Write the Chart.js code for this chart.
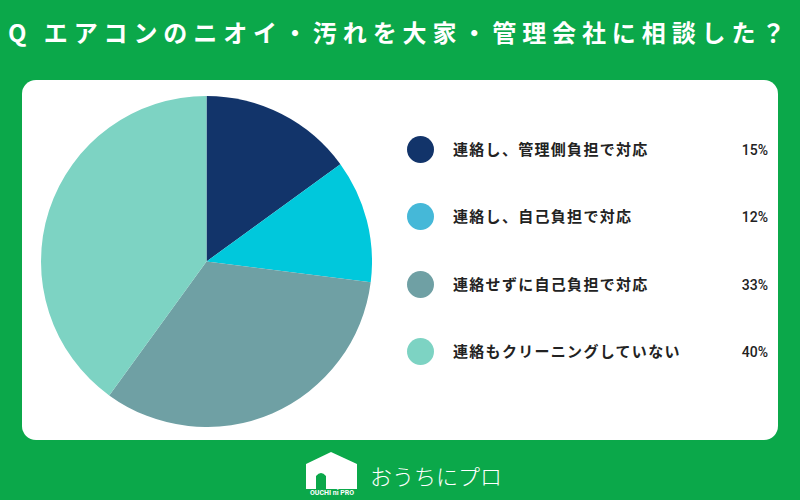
<!DOCTYPE html>
<html>
<head>
<meta charset="utf-8">
<script src="https://cdn.jsdelivr.net/npm/chart.js@4"></script>
<style>
  body { margin: 0; width: 800px; height: 500px; background: #0BA84A; font-family: "Noto Sans CJK JP", sans-serif; overflow: hidden; position: relative; }
  #title { position: absolute; left: 8px; top: 14px; color: #fff; font-size: 24px; font-weight: 700; letter-spacing: 5.9px; white-space: nowrap; }
  #card { position: absolute; left: 22px; top: 80px; width: 756px; height: 360px; background: #fff; border-radius: 14px; }
  #pieBox { position: absolute; left: 41px; top: 96px; width: 331px; height: 331px; }
  .item { position: absolute; left: 407px; width: 361px; height: 28px; }
  .dot { position: absolute; left: 0; top: 0; width: 27px; height: 27px; border-radius: 50%; }
  .lab { position: absolute; left: 46px; top: 2px; font-size: 15px; font-weight: 700; letter-spacing: 1.3px; color: #222; line-height: 22px; white-space: nowrap; }
  .pct { position: absolute; right: 0; top: 3px; font-size: 14px; font-weight: 500; color: #222; line-height: 22px; font-family: "Roboto", sans-serif; }
  #logo { position: absolute; left: 304px; top: 450px; }
  #brand { position: absolute; left: 370px; top: 459px; color: #fff; font-size: 22px; font-weight: 300; letter-spacing: 0px; white-space: nowrap; }
</style>
</head>
<body>
<div id="title">Q エアコンのニオイ・汚れを大家・管理会社に相談した？</div>
<div id="card"></div>
<div id="pieBox"><canvas id="pie"></canvas></div>
<div id="legend"></div>
<svg id="logo" width="56" height="46" viewBox="0 0 56 46">
  <path d="M2 14 L27 2 L53 14 L53 39 L22 39 L22 26 Q17 20 12 26 L12 39 L2 39 Z" fill="#fff"/>
  <text x="28" y="45" fill="#fff" font-size="7" font-family="Roboto" text-anchor="middle" font-weight="700">OUCHI ni PRO</text>
</svg>
<div id="brand">おうちにプロ</div>
<script>
const categories = ["連絡し、管理側負担で対応", "連絡し、自己負担で対応", "連絡せずに自己負担で対応", "連絡もクリーニングしていない"];
const shares = [15, 12, 33, 40];
const sliceColors = ["#12346A", "#00C8DC", "#6FA0A4", "#7DD3C3"];
const legendColors = ["#12346A", "#45B8D8", "#6FA0A4", "#7DD3C3"];
const legendTops = [136, 203, 271, 338];

const legend = document.getElementById("legend");
categories.forEach((c, i) => {
    const row = document.createElement("div");
    row.className = "item";
    row.style.top = legendTops[i] + "px";
    row.innerHTML = '<div class="dot" style="background:' + legendColors[i] + '"></div>' +
        '<div class="lab">' + c + '</div><div class="pct">' + shares[i] + '%</div>';
    legend.appendChild(row);
});

new Chart(document.getElementById("pie"), {
    type: "pie",
    data: {
        labels: categories,
        datasets: [{
            data: shares,
            backgroundColor: sliceColors,
            borderWidth: 0
        }]
    },
    options: {
        responsive: true,
        maintainAspectRatio: false,
        animation: false,
        layout: { padding: 0 },
        plugins: {
            legend: { display: false },
            tooltip: { enabled: false }
        }
    }
});
</script>
</body>
</html>
